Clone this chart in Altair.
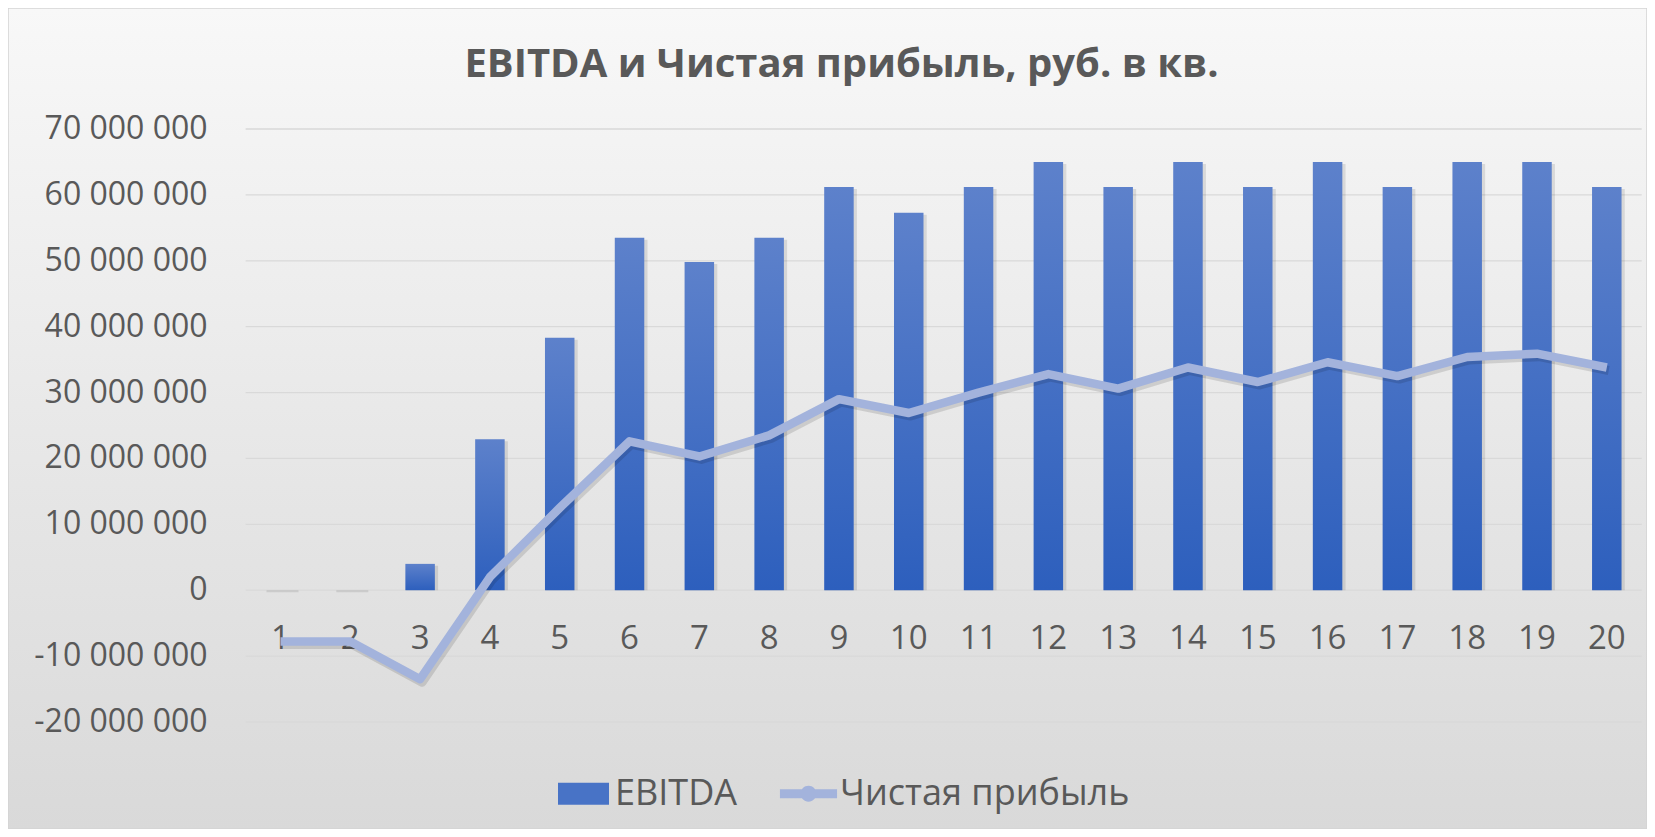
import altair as alt
import pandas as pd

# ---- data ----
periods = list(range(1, 21))
ebitda = [0, 0, 4.0e6, 22.9e6, 38.3e6, 53.5e6, 49.8e6, 53.5e6, 61.2e6, 57.3e6,
          61.2e6, 65.0e6, 61.2e6, 65.0e6, 61.2e6, 65.0e6, 61.2e6, 65.0e6, 65.0e6, 61.2e6]
net_profit = [-7.8e6, -7.8e6, -13.5e6, 2.0e6, 12.5e6, 22.6e6, 20.3e6, 23.5e6, 29.0e6, 26.9e6,
              30.0e6, 32.8e6, 30.6e6, 33.8e6, 31.6e6, 34.6e6, 32.5e6, 35.4e6, 35.9e6, 33.8e6]
y_ticks = [-20e6, -10e6, 0, 10e6, 20e6, 30e6, 40e6, 50e6, 60e6, 70e6]
y_tick_labels = ["-20 000 000", "-10 000 000", "0", "10 000 000", "20 000 000",
                 "30 000 000", "40 000 000", "50 000 000", "60 000 000", "70 000 000"]
series_names = ["EBITDA", "Чистая прибыль"]
title_text = "EBITDA и Чистая прибыль, руб. в кв."

# ---- tables ----
df = pd.DataFrame({"period": periods, "ebitda": ebitda, "net": net_profit,
                   "label": [str(p) for p in periods]})
long_df = pd.concat([
    pd.DataFrame({"period": periods, "value": ebitda, "series": series_names[0]}),
    pd.DataFrame({"period": periods, "value": net_profit, "series": series_names[1]}),
])
ticks_df = pd.DataFrame({"v": y_ticks, "lab": y_tick_labels})

FONT = "Open Sans"
TXT = "#595959"

xscale = alt.Scale(domain=[0.5, 20.5], range=[232.6, 1638.7], nice=False, zero=False)
yscale = alt.Scale(domain=[-20e6, 70e6], range=[714, 121], nice=False, zero=False)

X = lambda f: alt.X(f, type="quantitative", scale=xscale, axis=None)
Y = lambda f: alt.Y(f, type="quantitative", scale=yscale, axis=None)

base = alt.Chart(df)

background = alt.Chart(pd.DataFrame({"k": [0]})).mark_rect(
    color=alt.LinearGradient(
        gradient="linear",
        stops=[alt.GradientStop(color="#f8f8f8", offset=0),
               alt.GradientStop(color="#d9d9d9", offset=1)],
        x1=0, x2=0, y1=0, y2=1,
    ),
    stroke="#d4d4d4", strokeWidth=1.5,
).encode(x=alt.value(0), x2=alt.value("width"), y=alt.value(0), y2=alt.value("height"))

grid = alt.Chart(ticks_df).mark_rule(color="#d9d9d9", strokeWidth=1.3).encode(
    y=Y("v"),
    x=alt.XDatum(0.5, scale=xscale, axis=None),
    x2=alt.X2Datum(20.5),
)

ylabels = alt.Chart(ticks_df).mark_text(
    align="right", baseline="middle", dx=-38, font=FONT, fontSize=32, color=TXT
).encode(
    y=Y("v"),
    x=alt.XDatum(0.5, scale=xscale, axis=None),
    text="lab:N",
)

bar_shadow = base.mark_bar(size=32, color="#000000", opacity=0.10, xOffset=2, yOffset=2).encode(
    x=X("period"), y=Y("ebitda"), y2=alt.Y2Datum(0)
)

bars = base.mark_bar(
    size=29.5,
    color=alt.LinearGradient(
        gradient="linear",
        stops=[alt.GradientStop(color="#5d81cb", offset=0),
               alt.GradientStop(color="#2d5fbd", offset=1)],
        x1=0, x2=0, y1=0, y2=1,
    ),
).encode(x=X("period"), y=Y("ebitda"), y2=alt.Y2Datum(0))

xlabels = base.mark_text(
    baseline="middle", align="center", font=FONT, fontSize=33, color=TXT
).encode(
    x=X("period"),
    y=alt.YDatum(-7.35e6, scale=yscale, axis=None),
    text="label:N",
)

line_shadow = base.mark_line(color="#000000", opacity=0.12, strokeWidth=9, xOffset=2, yOffset=3,
                             strokeJoin="round").encode(x=X("period"), y=Y("net"))
line = base.mark_line(color="#a3b3dc", strokeWidth=8.5, strokeJoin="round").encode(
    x=X("period"), y=Y("net")
)

rect_path = "M-1,-0.43L1,-0.43L1,0.43L-1,0.43Z"
line_path = ("M-1.12,-0.18L1.12,-0.18L1.12,0.18L-1.12,0.18Z "
             "M-0.31,0A0.31,0.31 0 1,1 0.31,0A0.31,0.31 0 1,1 -0.31,0Z")

leg = alt.Legend(
    orient="none", legendX=550, legendY=760, direction="horizontal", title=None,
    labelFontSize=36, labelFont=FONT, labelColor=TXT, symbolSize=2601,
    symbolStrokeWidth=0, labelOffset=6, columnPadding=41, padding=0,
    symbolOpacity=1, labelLimit=600,
)

legend_layer = alt.Chart(long_df).mark_point(filled=True, opacity=0).encode(
    x=X("period"), y=Y("value"),
    color=alt.Color("series:N", scale=alt.Scale(domain=series_names, range=["#4873c6", "#a3b3dc"]),
                    legend=leg),
    shape=alt.Shape("series:N", scale=alt.Scale(domain=series_names, range=[rect_path, line_path]),
                    legend=leg),
)

chart = alt.layer(
    background, grid, ylabels, bar_shadow, bars, xlabels, line_shadow, line, legend_layer
).properties(
    width=1639, height=821,
    padding=0,
    autosize=alt.AutoSizeParams(type="none"),
    title=alt.TitleParams(
        text=title_text, fontSize=40, font=FONT, fontWeight="bold", color=TXT,
        anchor="middle", offset=-78, dx=14, frame="group",
    ),
).configure_view(stroke=None).configure(background="#ffffff")

chart.save("out.html", embed_options={"renderer": "svg", "actions": False})
